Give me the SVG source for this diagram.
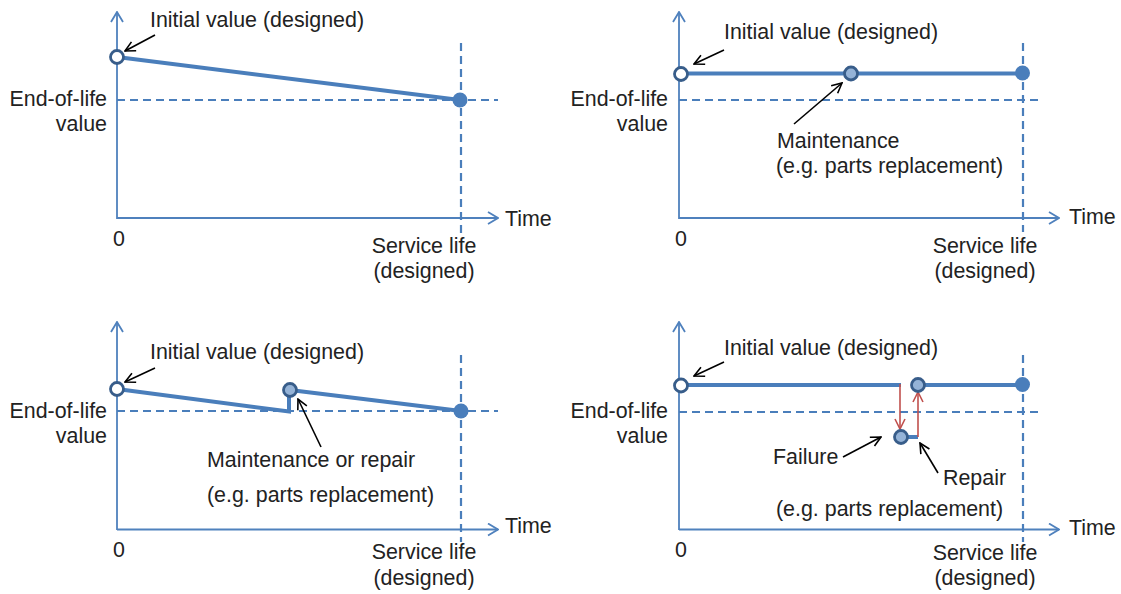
<svg xmlns="http://www.w3.org/2000/svg" width="1121" height="594" viewBox="0 0 1121 594">
  <defs>
    <style>
      text { font-family: "Liberation Sans", Arial, sans-serif; font-size: 21.4px; fill: #222; }
      .mid { text-anchor: middle; }
      .end { text-anchor: end; }
      .axis { stroke: #4F81BD; stroke-width: 1.8; fill: none; marker-end: url(#axisHead); }
      .guide { stroke: #4A7EBB; stroke-width: 2.2; fill: none; stroke-dasharray: 8 5; }
      .trend { stroke: #4A7EBB; stroke-width: 4; fill: none; stroke-linejoin: miter; }
      .callout { stroke: #000; stroke-width: 1.6; fill: none; marker-end: url(#calloutHead); }
      .jump { stroke: #C0504D; stroke-width: 1.6; fill: none; marker-end: url(#jumpHead); }
      .start { fill: #fff; stroke: #385D8A; stroke-width: 2.8; }
      .event { fill: #95B3D7; stroke: #385D8A; stroke-width: 2.8; }
      .final { fill: #4A7EBB; stroke: none; }
    </style>
    <marker id="axisHead" viewBox="0 0 12 14" refX="11" refY="7" markerWidth="12" markerHeight="14" markerUnits="userSpaceOnUse" orient="auto">
      <path d="M1 1 L11 7 L1 13" fill="none" stroke="#4F81BD" stroke-width="1.8"/>
    </marker>
    <marker id="calloutHead" viewBox="0 0 12 12" refX="11" refY="6" markerWidth="12" markerHeight="12" markerUnits="userSpaceOnUse" orient="auto">
      <path d="M1 1 L11 6 L1 11" fill="none" stroke="#000" stroke-width="1.6"/>
    </marker>
    <marker id="jumpHead" viewBox="0 0 12 12" refX="11" refY="6" markerWidth="12" markerHeight="12" markerUnits="userSpaceOnUse" orient="auto">
      <path d="M1 1 L11 6 L1 11" fill="none" stroke="#C0504D" stroke-width="1.6"/>
    </marker>
  </defs>

  <rect width="1121" height="594" fill="#fff"/>

  <!-- Panel 1: gradual degradation, no maintenance -->
  <g id="panel-degradation">
    <g id="p1-axes">
      <line class="axis" x1="117" y1="219" x2="117" y2="12"/>
      <line class="axis" x1="117" y1="218" x2="498" y2="218"/>
      <line class="guide" x1="117" y1="100" x2="498" y2="100"/>
      <line class="guide" x1="461" y1="43" x2="461" y2="234"/>
    </g>
    <g id="p1-connectors">
      <line class="trend" x1="117" y1="57" x2="460" y2="100"/>
      <line class="callout" x1="155" y1="35" x2="125" y2="51"/>
    </g>
    <g id="p1-initial"><circle class="start" cx="117" cy="57" r="6.5"/></g>
    <g id="p1-end"><circle class="final" cx="460" cy="100" r="7.5"/></g>
    <text x="150" y="27">Initial value (designed)</text>
    <text class="end" x="107" y="106">End-of-life</text>
    <text class="end" x="107" y="131">value</text>
    <text class="mid" x="119" y="246">0</text>
    <text x="505" y="226">Time</text>
    <text class="mid" x="424" y="253">Service life</text>
    <text class="mid" x="424" y="278">(designed)</text>
  </g>

  <!-- Panel 2: value held by maintenance -->
  <g id="panel-maintenance">
    <g id="p2-axes">
      <line class="axis" x1="679" y1="219" x2="679" y2="12"/>
      <line class="axis" x1="679" y1="218" x2="1059" y2="218"/>
      <line class="guide" x1="679" y1="100" x2="1043" y2="100"/>
      <line class="guide" x1="1023" y1="43" x2="1023" y2="232"/>
    </g>
    <g id="p2-connectors">
      <line class="trend" x1="681" y1="73.5" x2="1022" y2="73.5"/>
      <line class="callout" x1="724" y1="50" x2="694" y2="64"/>
      <line class="callout" x1="794" y1="124" x2="842" y2="83"/>
    </g>
    <g id="p2-initial"><circle class="start" cx="681" cy="74" r="6.5"/></g>
    <g id="p2-maintenance"><circle class="event" cx="851" cy="73.5" r="6.5"/></g>
    <g id="p2-end"><circle class="final" cx="1022.5" cy="73" r="7.5"/></g>
    <text x="724" y="39">Initial value (designed)</text>
    <text class="end" x="668" y="106">End-of-life</text>
    <text class="end" x="668" y="131">value</text>
    <text x="777" y="148">Maintenance</text>
    <text x="776" y="173">(e.g. parts replacement)</text>
    <text class="mid" x="681" y="246">0</text>
    <text x="1069" y="224">Time</text>
    <text class="mid" x="985" y="253">Service life</text>
    <text class="mid" x="985" y="278">(designed)</text>
  </g>

  <!-- Panel 3: degradation with restoring maintenance or repair -->
  <g id="panel-repair">
    <g id="p3-axes">
      <line class="axis" x1="117" y1="530" x2="117" y2="322"/>
      <line class="axis" x1="117" y1="529.5" x2="498" y2="529.5"/>
      <line class="guide" x1="117" y1="411" x2="498" y2="411"/>
      <line class="guide" x1="461" y1="355" x2="461" y2="542"/>
    </g>
    <g id="p3-connectors">
      <polyline class="trend" points="117,389 289,411.5 289,396"/>
      <line class="trend" x1="290" y1="390" x2="461" y2="411"/>
      <line class="callout" x1="321" y1="447" x2="298" y2="399"/>
      <line class="callout" x1="155" y1="368" x2="125" y2="382"/>
    </g>
    <g id="p3-initial"><circle class="start" cx="117" cy="389" r="6.5"/></g>
    <g id="p3-repair"><circle class="event" cx="290" cy="390" r="6.5"/></g>
    <g id="p3-end"><circle class="final" cx="461" cy="411" r="7.5"/></g>
    <text x="150" y="359">Initial value (designed)</text>
    <text class="end" x="107" y="418">End-of-life</text>
    <text class="end" x="107" y="443">value</text>
    <text x="207" y="467">Maintenance or repair</text>
    <text x="207" y="502">(e.g. parts replacement)</text>
    <text class="mid" x="119" y="557">0</text>
    <text x="505" y="533">Time</text>
    <text class="mid" x="424" y="559">Service life</text>
    <text class="mid" x="424" y="585">(designed)</text>
  </g>

  <!-- Panel 4: sudden failure followed by repair -->
  <g id="panel-failure">
    <g id="p4-axes">
      <line class="axis" x1="679" y1="530" x2="679" y2="322"/>
      <line class="axis" x1="679" y1="529.5" x2="1059" y2="529.5"/>
      <line class="guide" x1="679" y1="412" x2="1043" y2="412"/>
      <line class="guide" x1="1023" y1="355" x2="1023" y2="542"/>
    </g>
    <g id="p4-connectors">
      <line class="trend" x1="681" y1="385" x2="901" y2="385"/>
      <line class="trend" x1="901" y1="437" x2="918" y2="437"/>
      <line class="trend" x1="918" y1="385" x2="1022" y2="385"/>
      <line class="jump" x1="900" y1="384" x2="900" y2="429"/>
      <line class="jump" x1="918" y1="437" x2="918" y2="392"/>
      <line class="callout" x1="724" y1="362" x2="694" y2="376"/>
      <line class="callout" x1="843" y1="457" x2="881" y2="437"/>
      <line class="callout" x1="938" y1="473" x2="920" y2="443"/>
    </g>
    <g id="p4-initial"><circle class="start" cx="681" cy="385.5" r="6.5"/></g>
    <g id="p4-failure"><circle class="event" cx="901" cy="437" r="6.5"/></g>
    <g id="p4-repair"><circle class="event" cx="918" cy="385" r="6.5"/></g>
    <g id="p4-end"><circle class="final" cx="1022.5" cy="384.5" r="7.5"/></g>
    <text x="724" y="355">Initial value (designed)</text>
    <text class="end" x="668" y="418">End-of-life</text>
    <text class="end" x="668" y="443">value</text>
    <text x="773" y="464">Failure</text>
    <text x="943" y="485">Repair</text>
    <text x="776" y="516">(e.g. parts replacement)</text>
    <text class="mid" x="681" y="557">0</text>
    <text x="1069" y="535">Time</text>
    <text class="mid" x="985" y="560">Service life</text>
    <text class="mid" x="985" y="585">(designed)</text>
  </g>
</svg>
